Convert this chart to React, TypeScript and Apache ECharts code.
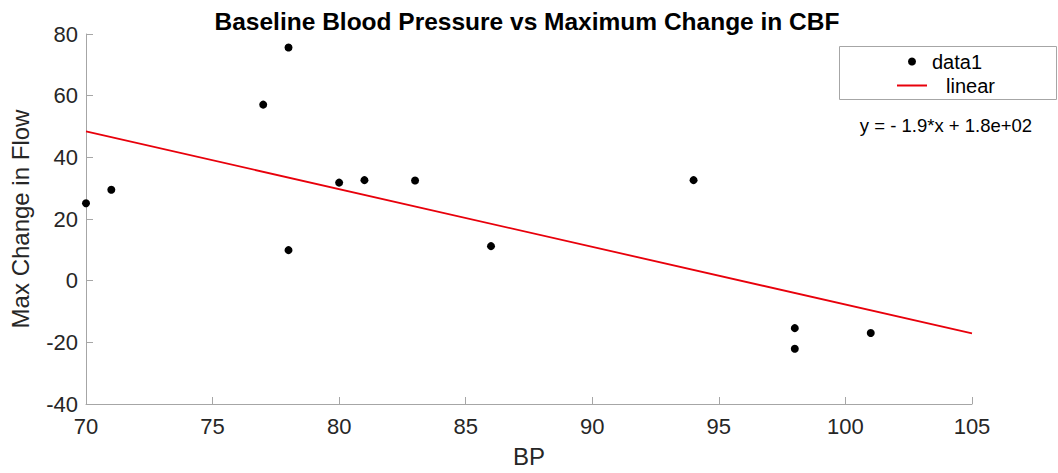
import React, { useEffect, useRef } from "react";
import * as echarts from "echarts";

const titleText = "Baseline Blood Pressure vs Maximum Change in CBF";
const xName = "BP";
const yName = "Max Change in Flow";
const equationText = "y = - 1.9*x + 1.8e+02";

const bpValues = [70, 71, 77, 78, 78, 80, 81, 83, 86, 94, 98, 98, 101];
const flowValues = [25.1, 29.5, 57.1, 75.6, 9.9, 31.8, 32.6, 32.5, 11.2, 32.6, -15.4, -22.1, -17.0];

const fitX = [70, 105];
const fitY = [48.4, -17.1];

const FONT = "'Liberation Sans', Arial, Helvetica, sans-serif";

export default function App() {
  const ref = useRef<HTMLDivElement>(null);
  useEffect(() => {
    if (!ref.current) return;
    const chart = echarts.init(ref.current, undefined, { renderer: "svg" });
    const scatterData = bpValues.map((x, i) => [x, flowValues[i]]);
    const fitData = fitX.map((x, i) => [x, fitY[i]]);
    const axisColor = "#a6a6a6";
    const textColor = "#262626";
    chart.setOption({
      animation: false,
      backgroundColor: "#ffffff",
      textStyle: { fontFamily: FONT },
      title: {
        text: titleText,
        left: 522,
        top: 4,
        textAlign: "center",
        textStyle: { fontFamily: FONT, fontWeight: "bold", fontSize: 24.5, color: "#000" },
      },
      grid: { left: 80, right: 86, top: 34, bottom: 65, containLabel: false },
      xAxis: {
        type: "value",
        min: 70,
        max: 105,
        interval: 5,
        name: xName,
        nameLocation: "middle",
        nameGap: 40,
        nameTextStyle: { fontFamily: FONT, fontSize: 24, color: textColor },
        axisLine: { show: true, onZero: false, lineStyle: { color: axisColor, width: 1 } },
        axisTick: { show: true, inside: true, length: 7, lineStyle: { color: axisColor } },
        axisLabel: { fontFamily: FONT, fontSize: 22, color: textColor, margin: 11 },
        splitLine: { show: false },
      },
      yAxis: {
        type: "value",
        min: -40,
        max: 80,
        interval: 20,
        name: yName,
        nameLocation: "middle",
        nameGap: 54,
        nameTextStyle: { fontFamily: FONT, fontSize: 24, color: textColor },
        axisLine: { show: true, onZero: false, lineStyle: { color: axisColor, width: 1 } },
        axisTick: { show: true, inside: true, length: 7, lineStyle: { color: axisColor } },
        axisLabel: { fontFamily: FONT, fontSize: 22, color: textColor, margin: 8 },
        splitLine: { show: false },
      },
      legend: {
        orient: "vertical",
        left: 897,
        top: 51,
        itemWidth: 30,
        itemHeight: 8,
        itemGap: 3,
        padding: 0,
        textStyle: { fontFamily: FONT, fontSize: 20, color: "#000", lineHeight: 21 },
        data: [
          { name: "data1", icon: "circle" },
          {
            name: "linear",
            icon: "path://M0,0L30,0L30,2L0,2Z",
            textStyle: { padding: [0, 0, 0, 14] },
          },
        ],
      },
      graphic: [
        {
          type: "rect",
          shape: { x: 839.5, y: 46.5, width: 217, height: 53 },
          style: { fill: "none", stroke: "#a6a6a6", lineWidth: 1 },
          z: 10,
        },
        {
          type: "text",
          x: 946,
          y: 125,
          style: {
            text: equationText,
            fontFamily: FONT,
            fontSize: 18.5,
            fill: "#000",
            align: "center",
            verticalAlign: "middle",
          },
        },
      ],
      series: [
        {
          name: "data1",
          type: "scatter",
          data: scatterData,
          symbol: "circle",
          symbolSize: 8,
          itemStyle: { color: "#000", opacity: 1 },
          z: 3,
        },
        {
          name: "linear",
          type: "line",
          data: fitData,
          showSymbol: false,
          symbol: "none",
          lineStyle: { color: "#e8000b", width: 1.8 },
          itemStyle: { color: "#e8000b" },
          z: 2,
        },
      ],
    });
    return () => chart.dispose();
  }, []);
  return (
    <div
      ref={ref}
      style={{ position: "absolute", left: 0, top: 0, width: 1058, height: 473 }}
    />
  );
}
